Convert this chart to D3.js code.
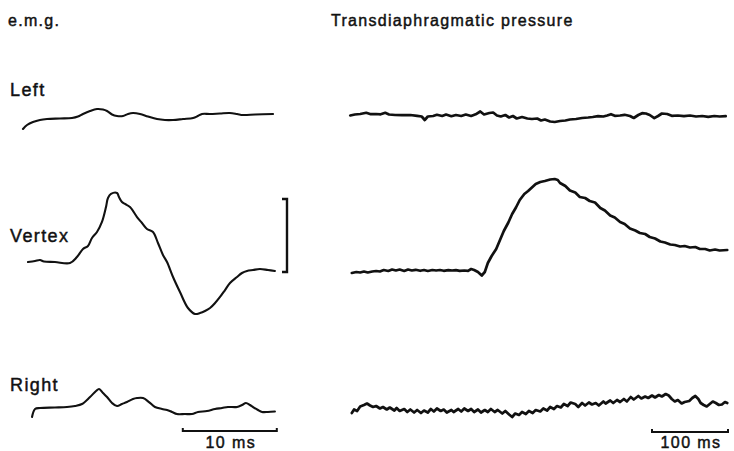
<!DOCTYPE html>
<html><head><meta charset="utf-8">
<script src="https://cdn.jsdelivr.net/npm/d3@7"></script>
<style>
html,body{margin:0;padding:0;background:#fff;}
text{font-family:"Liberation Sans",Arial,sans-serif;fill:#111;stroke:#111;stroke-width:0.45px;}
</style></head>
<body><svg id="c" width="734" height="451"></svg>
<script>
// ---------- DATA ----------
const panelTitles = ["e.m.g.", "Transdiaphragmatic pressure"];
const rowLabels = ["Left", "Vertex", "Right"];
const emgScaleLabel = "10 ms";
const pdiScaleLabel = "100 ms";
const emgScaleBarMs = [17, 27];
const pdiScaleBarMs = [400, 500];
const emgCalibration = 10; // amplitude units (vertical bracket)

// e.m.g. traces: [time ms, amplitude units]
const emgLeft = [[0,-1.5],[0.43,-0.96],[1.06,-0.55],[1.8,-0.27],[2.55,-0.14],[3.94,-0.07],[5.21,0],[5.85,0.2],[6.38,0.55],[7.13,0.96],[7.87,1.23],[8.51,1.16],[8.94,0.96],[9.47,0.48],[10.0,0.27],[10.64,0.27],[11.17,0.55],[11.7,0.68],[12.45,0.55],[13.3,0.2],[14.26,-0.14],[15.1,-0.27],[15.96,-0.27],[17.02,-0.14],[18.1,0],[18.6,0.27],[19.04,0.55],[19.9,0.55],[20.96,0.62],[22.0,0.68],[22.77,0.55],[23.4,0.41],[24.7,0.48],[26.6,0.55]];
const emgVertex = [[0.53,0],[1.28,0.14],[1.81,0.27],[2.23,0.07],[3.4,0],[5.0,-0.14],[5.74,0.68],[6.38,1.78],[6.91,2.19],[7.34,3.29],[7.87,4.11],[8.4,5.48],[8.83,7.53],[9.04,8.77],[9.36,9.32],[10.0,9.45],[10.21,8.9],[10.53,8.22],[10.85,7.95],[11.38,7.53],[12.13,6.16],[12.66,5.34],[13.19,4.52],[13.83,4.11],[14.36,2.6],[14.89,0.96],[15.32,0],[15.96,-2.05],[16.7,-4.11],[17.55,-6.3],[18.3,-7.12],[18.83,-6.99],[19.36,-6.71],[19.9,-6.3],[20.43,-5.62],[20.96,-4.79],[21.49,-3.84],[22.02,-2.88],[22.77,-2.05],[23.3,-1.51],[23.83,-1.23],[24.47,-1.1],[25.2,-0.96],[26.06,-1.1],[26.8,-1.23]];
const emgRight = [[0.96,-1.37],[1.28,-0.27],[1.81,-0.14],[3.4,-0.07],[4.68,0],[5.53,0.14],[6.28,0.41],[7.13,1.37],[7.77,2.19],[8.09,2.47],[8.51,1.92],[8.94,1.37],[9.47,0.55],[10.0,0.14],[10.53,0.41],[11.06,0.68],[11.7,1.1],[12.13,1.23],[12.77,1.23],[13.4,0.68],[14.04,0],[14.79,-0.27],[15.32,-0.41],[15.85,-0.68],[16.38,-0.96],[17.23,-0.96],[17.98,-0.96],[18.62,-0.68],[19.57,-0.55],[20.43,-0.27],[21.17,-0.14],[21.8,0],[22.77,0],[23.3,0.27],[23.72,0.55],[24.15,0.27],[24.47,0],[25.0,-0.41],[25.43,-0.68],[26.06,-0.68],[26.8,-0.62]];

// transdiaphragmatic pressure traces: [time ms, pressure units]
const pdiLeft = [[3,-0.05],[9,0.05],[16,0.1],[24,0.22],[30,0.08],[37,0.1],[43,0.07],[49,0.22],[54,0.05],[62,0],[71,-0.02],[82,0],[91,-0.08],[97,-0.15],[101,-0.5],[105,-0.15],[112,-0.1],[117,0.02],[124,-0.1],[129,0.05],[136,-0.12],[142,0],[149,-0.1],[155,0.05],[162,-0.1],[168,0.07],[174,0.35],[179,0.05],[186,0.2],[191,0.25],[196,-0.05],[201,-0.15],[207,0],[212,-0.25],[217,-0.1],[222,-0.35],[229,-0.2],[236,-0.35],[242,-0.4],[249,-0.35],[254,-0.55],[259,-0.45],[266,-0.65],[272,-0.7],[279,-0.6],[286,-0.55],[292,-0.45],[300,-0.4],[308,-0.3],[316,-0.25],[322,-0.2],[329,-0.12],[336,-0.15],[341,-0.05],[346,0.08],[351,-0.08],[358,-0.05],[364,0.02],[371,-0.1],[376,-0.3],[382,0],[387,0.18],[392,0.15],[397,0],[403,-0.32],[408,-0.1],[413,0.15],[420,0.1],[426,-0.08],[434,-0.05],[442,-0.12],[450,-0.05],[458,-0.15],[466,-0.1],[474,-0.18],[482,-0.1],[489,-0.15],[497,-0.12]];
const pdiVertex = [[5,-0.2],[11,-0.1],[16,-0.15],[21,-0.05],[26,-0.15],[32,-0.05],[37,0],[42,-0.05],[47,0.1],[53,0],[58,0.15],[63,0.05],[68,0.15],[74,0],[79,0.15],[84,0.05],[89,0.12],[95,0.02],[100,0.1],[105,0],[111,0.1],[116,0.05],[121,0.1],[126,0.02],[132,0.08],[137,0.05],[142,0.08],[147,0.02],[153,0.05],[158,0.02],[162,0.2],[166,0.1],[171,-0.1],[176,-0.45],[180,-0.1],[184,0.8],[189,1.5],[195,2.2],[200,3.1],[205,4.0],[211,4.85],[216,5.7],[221,6.35],[226,7.1],[232,7.7],[237,8.0],[242,8.35],[247,8.7],[253,8.9],[259,9.0],[266,9.15],[272,9.2],[276,9.1],[279,8.8],[286,8.5],[292,8.05],[299,7.85],[305,7.4],[312,7.3],[318,7.0],[325,6.85],[332,6.3],[338,6.05],[345,5.55],[351,5.35],[358,4.9],[364,4.7],[371,4.25],[378,4.05],[384,3.8],[391,3.7],[397,3.4],[404,3.25],[411,2.95],[417,2.85],[424,2.65],[430,2.6],[437,2.45],[443,2.5],[450,2.35],[457,2.4],[463,2.2],[470,2.2],[476,2.05],[483,2.15],[489,2.05],[499,2.1]];
const pdiRight = [[5,-0.3],[8,0.05],[12,-0.1],[16,0.35],[21,0.5],[25,0.65],[29,0.45],[33,0.3],[37,0.4],[42,0.15],[46,0.3],[51,0.05],[55,0.25],[61,-0.05],[64,0.2],[68,-0.1],[74,0.1],[78,-0.2],[82,0.05],[87,-0.25],[91,0],[96,-0.3],[100,-0.05],[105,-0.25],[109,0.1],[113,-0.15],[117,0.15],[122,-0.1],[126,0.05],[130,-0.25],[136,0],[139,-0.2],[145,0.1],[149,-0.15],[153,0.15],[158,-0.1],[162,0.1],[166,-0.2],[171,0.05],[175,-0.25],[180,0],[184,-0.2],[188,0.1],[193,-0.2],[197,0],[203,-0.35],[207,-0.1],[212,-0.45],[216,-0.7],[220,-0.35],[225,-0.5],[229,-0.2],[234,-0.4],[238,-0.1],[243,-0.3],[247,0],[253,-0.15],[257,0.15],[262,-0.05],[266,0.3],[271,0.1],[275,0.4],[280,0.25],[284,0.6],[289,0.4],[293,0.75],[299,0.6],[303,0.3],[308,0.7],[312,0.45],[317,0.75],[321,0.55],[326,0.7],[330,0.45],[336,0.85],[339,0.65],[345,0.95],[349,0.7],[354,1.0],[358,0.8],[363,1.1],[367,0.85],[372,1.3],[376,1.05],[382,1.4],[386,1.15],[391,1.35],[395,1.2],[400,1.45],[404,1.25],[409,1.5],[413,1.35],[418,1.6],[422,1.45],[426,1.1],[430,0.85],[434,1.0],[439,0.65],[443,0.8],[449,0.9],[453,1.2],[457,1.4],[461,1.1],[464,0.7],[468,0.5],[472,0.35],[476,0.6],[480,0.85],[484,0.7],[488,0.5],[492,0.55],[496,0.8],[499,0.7]];

// ---------- DRAW ----------
const svg = d3.select("#c");
const ink = "#111";

const xEmg = d3.scaleLinear().domain([0, 27]).range([23, 276.8]);
const xPdi = d3.scaleLinear().domain([0, 500]).range([348, 728]);
const emgAmp = d3.scaleLinear().domain([0, 1]).range([0, 7.3]);   // px per unit
const pdiAmp = d3.scaleLinear().domain([0, 1]).range([0, 10]);

const emgBase = [118, 262, 407];
const pdiBase = [115, 271, 410];
const labelY = [96, 242, 391];

const emgSeries = [emgLeft, emgVertex, emgRight];
const pdiSeries = [pdiLeft, pdiVertex, pdiRight];

emgSeries.forEach((s, i) => {
  const line = d3.line()
    .x(d => xEmg(d[0]))
    .y(d => emgBase[i] - emgAmp(d[1]))
    .curve(d3.curveCatmullRom.alpha(0.5));
  svg.append("path").attr("d", line(s))
    .attr("fill", "none").attr("stroke", ink).attr("stroke-width", 2.1)
    .attr("stroke-linejoin", "round").attr("stroke-linecap", "round");
});

pdiSeries.forEach((s, i) => {
  const line = d3.line()
    .x(d => xPdi(d[0]))
    .y(d => pdiBase[i] - pdiAmp(d[1]));
  svg.append("path").attr("d", line(s))
    .attr("fill", "none").attr("stroke", ink).attr("stroke-width", 2.7)
    .attr("stroke-linejoin", "round").attr("stroke-linecap", "round");
});

// titles
svg.append("text").attr("x", 8).attr("y", 26)
  .style("font-size", "16px").style("letter-spacing", "1.3px").text(panelTitles[0]);
svg.append("text").attr("x", 331).attr("y", 26)
  .style("font-size", "16px").style("letter-spacing", "1.3px").text(panelTitles[1]);

// row labels
rowLabels.forEach((lab, i) => {
  svg.append("text").attr("x", 10).attr("y", labelY[i])
    .style("font-size", "18px").style("letter-spacing", "1.4px").text(lab);
});

// calibration bracket
const calBottom = 272, calX = 287;
const calTop = calBottom - emgAmp(emgCalibration);
svg.append("path")
  .attr("d", `M${calX-5},${calTop}H${calX}V${calBottom}H${calX-5}`)
  .attr("fill", "none").attr("stroke", ink).attr("stroke-width", 2.4);

// time scale bars
function scaleBar(xs, range, y, label) {
  const x0 = xs(range[0]), x1 = xs(range[1]);
  svg.append("path")
    .attr("d", `M${x0},${y-3}V${y}H${x1}V${y-3}`)
    .attr("fill", "none").attr("stroke", ink).attr("stroke-width", 2);
  svg.append("text").attr("x", (x0 + x1) / 2 + 1).attr("y", 448)
    .attr("text-anchor", "middle")
    .style("font-size", "16px").style("letter-spacing", "1.4px").text(label);
}
scaleBar(xEmg, emgScaleBarMs, 431, emgScaleLabel);
scaleBar(xPdi, pdiScaleBarMs, 432, pdiScaleLabel);
</script></body></html>
